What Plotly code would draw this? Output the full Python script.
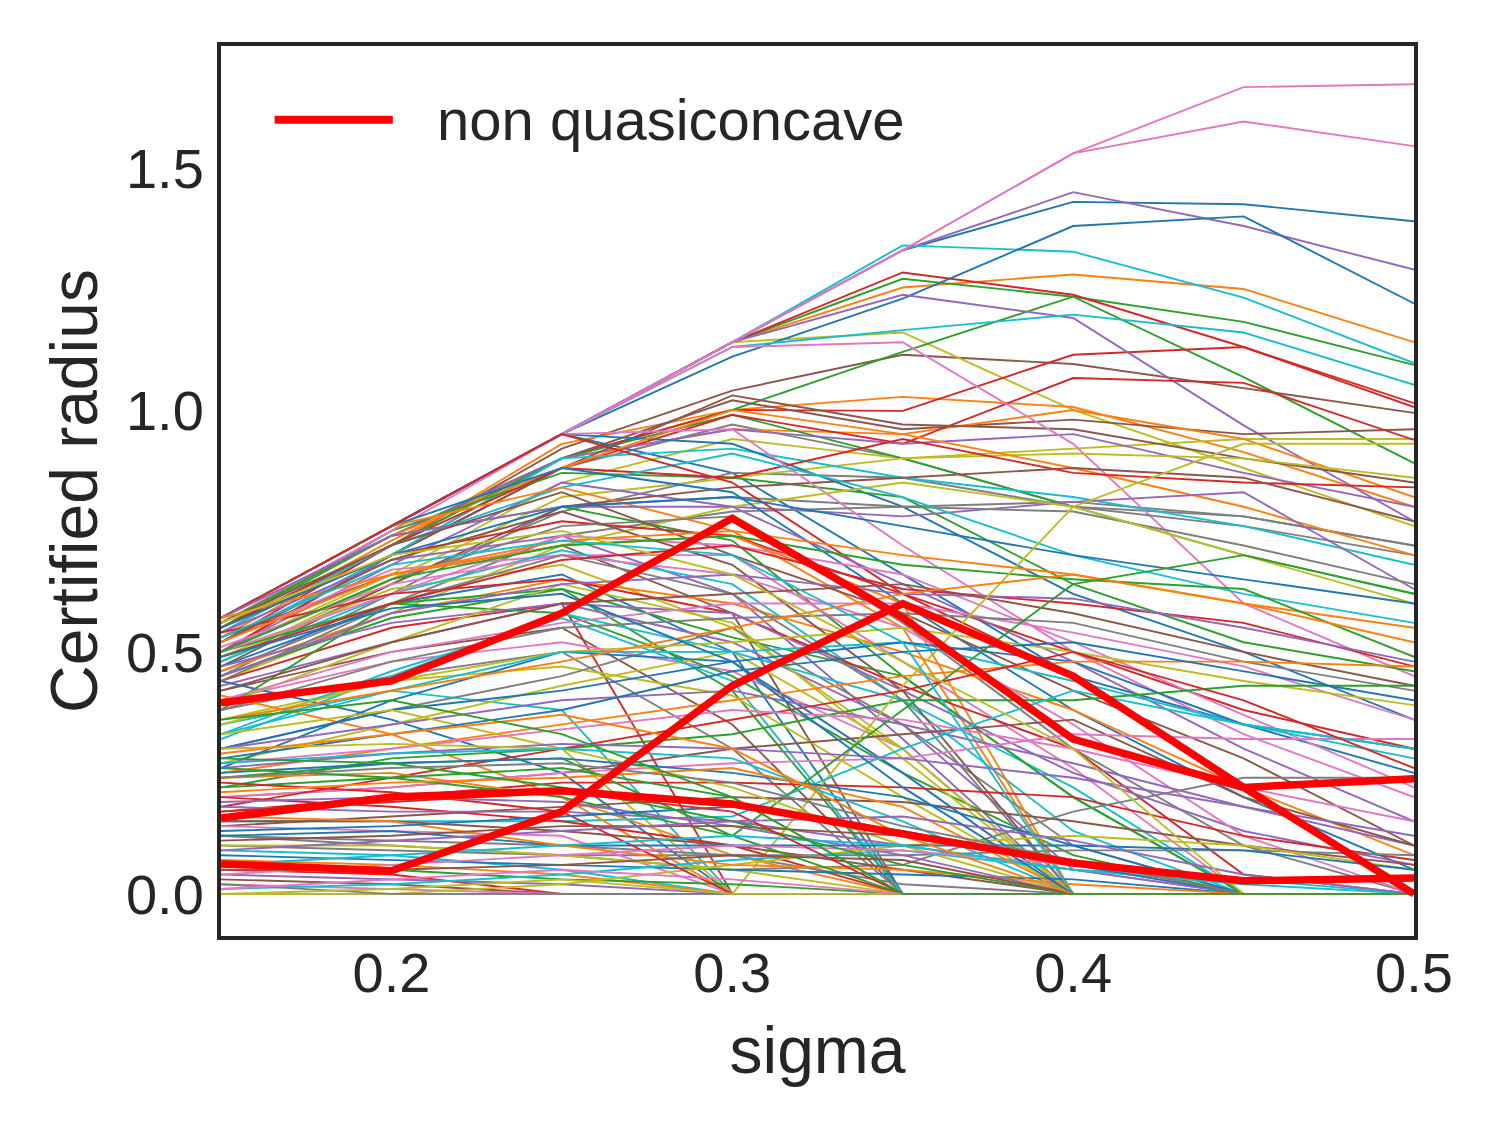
import plotly.graph_objects as go

# sigma values (x axis)
sigma = [0.15, 0.2, 0.25, 0.3, 0.35, 0.4, 0.45, 0.5]

# curves that follow the upper envelope for a while (ordered so the colour cycle lands right)
upper_curves = [
    [0.57, 0.76, 0.95, 1.14, 1.33, 1.43, 1.425, 1.39],
    [0.57, 0.76, 0.95, 1.14, 1.253, 1.28, 1.25, 1.14],
    [0.57, 0.76, 0.95, 1.14, 1.271, 1.234, 1.182, 1.093],
    [0.57, 0.76, 0.95, 1.14, 1.284, 1.238, 1.13, 1.014],
    [0.57, 0.76, 0.95, 1.14, 1.33, 1.45, 1.38, 1.29],
    [0.55, 0.72, 0.92, 1.04, 1.114, 1.095, 1.045, 0.994],
    [0.57, 0.76, 0.95, 1.14, 1.33, 1.53, 1.667, 1.673],
    [0.50, 0.70, 0.88, 0.97, 0.90, 0.80, 0.78, 0.72],
    [0.57, 0.76, 0.95, 1.14, 1.16, 1.00, 0.88, 0.76],
    [0.57, 0.76, 0.95, 1.14, 1.34, 1.327, 1.232, 1.097],
    [0.57, 0.76, 0.95, 1.11, 1.23, 1.38, 1.40, 1.22],
    [0.53, 0.72, 0.93, 1.00, 1.027, 1.006, 0.913, 0.80],
    [0.55, 0.74, 0.90, 1.00, 1.12, 1.234, 1.068, 0.89],
    [0.52, 0.72, 0.90, 1.00, 0.998, 1.114, 1.13, 1.006],
    [0.57, 0.76, 0.95, 1.14, 1.238, 1.19, 0.968, 0.77],
    [0.50, 0.70, 0.90, 1.02, 0.96, 0.98, 0.95, 0.96],
    [0.57, 0.76, 0.95, 1.14, 1.33, 1.53, 1.596, 1.545],
    [0.45, 0.62, 0.80, 0.82, 0.80, 0.81, 0.78, 0.72],
    [0.50, 0.66, 0.85, 0.94, 0.90, 0.92, 0.94, 0.94],
    [0.57, 0.76, 0.95, 1.13, 1.165, 1.197, 1.16, 1.052],
    [0.57, 0.76, 0.95, 0.87, 0.66, 0.45, 0.35, 0.25],
    [0.54, 0.73, 0.90, 0.96, 0.95, 1.00, 0.94, 0.82],
    [0.55, 0.72, 0.90, 0.99, 0.90, 0.80, 0.70, 0.62],
    [0.50, 0.70, 0.88, 0.99, 0.93, 1.066, 1.056, 0.938],
    [0.56, 0.74, 0.90, 0.96, 0.93, 0.95, 0.87, 0.80],
    [0.52, 0.70, 0.88, 1.03, 0.97, 0.96, 0.90, 0.85],
    [0.57, 0.76, 0.95, 1.13, 1.14, 0.93, 0.60, 0.45],
    [0.48, 0.64, 0.79, 0.87, 0.86, 0.80, 0.76, 0.70],
    [0.48, 0.65, 0.82, 0.86, 0.90, 0.91, 0.90, 0.86],
    [0.52, 0.70, 0.90, 0.92, 0.86, 0.82, 0.76, 0.68],
    [0.57, 0.76, 0.95, 0.93, 0.80, 0.62, 0.50, 0.36],
    [0.56, 0.74, 0.88, 1.00, 0.95, 0.88, 0.80, 0.70],
    [0.55, 0.75, 0.87, 0.86, 0.82, 0.64, 0.52, 0.46],
    [0.55, 0.72, 0.88, 0.86, 0.94, 0.87, 0.85, 0.84],
    [0.50, 0.68, 0.85, 0.80, 0.78, 0.81, 0.83, 0.63],
    [0.47, 0.64, 0.80, 0.84, 0.86, 0.88, 0.86, 0.77],
    [0.56, 0.75, 0.95, 0.96, 0.72, 0.50, 0.33, 0.20],
    [0.46, 0.60, 0.74, 0.79, 0.80, 0.79, 0.72, 0.64],
    [0.44, 0.58, 0.72, 0.80, 0.85, 0.80, 0.70, 0.60],
    [0.54, 0.72, 0.84, 0.91, 0.82, 0.70, 0.62, 0.56],
]

# curves that drop off towards zero
falling_curves = [
    [0.57, 0.76, 0.88, 0.83, 0.60, 0.38, 0.20, 0.05],
    [0.57, 0.76, 0.84, 0.75, 0.55, 0.00, 0.00, 0.00],
    [0.56, 0.74, 0.80, 0.73, 0.45, 0.20, 0.00, 0.00],
    [0.55, 0.70, 0.77, 0.74, 0.62, 0.50, 0.38, 0.30],
    [0.54, 0.69, 0.74, 0.62, 0.32, 0.00, 0.00, 0.00],
    [0.53, 0.66, 0.72, 0.58, 0.00, 0.00, 0.00, 0.00],
    [0.52, 0.67, 0.70, 0.70, 0.48, 0.26, 0.00, 0.00],
    [0.50, 0.65, 0.76, 0.78, 0.56, 0.30, 0.10, 0.00],
    [0.49, 0.63, 0.68, 0.55, 0.30, 0.00, 0.00, 0.00],
    [0.48, 0.62, 0.71, 0.64, 0.40, 0.13, 0.00, 0.00],
    [0.47, 0.60, 0.66, 0.50, 0.00, 0.00, 0.00, 0.00],
    [0.46, 0.58, 0.65, 0.60, 0.50, 0.38, 0.22, 0.08],
    [0.45, 0.57, 0.63, 0.42, 0.00, 0.00, 0.00, 0.00],
    [0.44, 0.55, 0.60, 0.00, 0.00, 0.00, 0.00, 0.00],
    [0.43, 0.52, 0.60, 0.52, 0.35, 0.05, 0.00, 0.00],
    [0.42, 0.50, 0.55, 0.35, 0.00, 0.00, 0.00, 0.00],
    [0.40, 0.48, 0.52, 0.46, 0.30, 0.00, 0.00, 0.00],
    [0.38, 0.45, 0.50, 0.30, 0.00, 0.00, 0.00, 0.00],
    [0.36, 0.44, 0.47, 0.41, 0.20, 0.00, 0.00, 0.00],
    [0.35, 0.42, 0.38, 0.00, 0.00, 0.00, 0.00, 0.00],
    [0.44, 0.36, 0.25, 0.00, 0.00, 0.00, 0.00, 0.00],
    [0.41, 0.33, 0.20, 0.08, 0.00, 0.00, 0.00, 0.00],
    [0.50, 0.60, 0.58, 0.45, 0.25, 0.08, 0.00, 0.00],
    [0.57, 0.76, 0.95, 0.85, 0.62, 0.45, 0.22, 0.00],
    [0.57, 0.74, 0.80, 0.80, 0.64, 0.48, 0.30, 0.15],
    [0.56, 0.72, 0.83, 0.70, 0.58, 0.42, 0.28, 0.10],
    [0.50, 0.62, 0.74, 0.72, 0.66, 0.52, 0.37, 0.22],
    [0.30, 0.38, 0.45, 0.55, 0.35, 0.10, 0.00, 0.00],
    [0.27, 0.35, 0.43, 0.50, 0.30, 0.00, 0.00, 0.00],
    [0.32, 0.45, 0.58, 0.50, 0.40, 0.22, 0.00, 0.00],
    [0.26, 0.40, 0.50, 0.48, 0.25, 0.00, 0.00, 0.00],
    [0.57, 0.66, 0.72, 0.74, 0.60, 0.00, 0.00, 0.00],
    [0.38, 0.60, 0.63, 0.53, 0.45, 0.20, 0.00, 0.00],
    [0.54, 0.62, 0.65, 0.58, 0.43, 0.30, 0.04, 0.00],
    [0.47, 0.56, 0.60, 0.58, 0.42, 0.25, 0.13, 0.06],
    [0.52, 0.69, 0.79, 0.68, 0.42, 0.00, 0.00, 0.00],
    [0.51, 0.64, 0.70, 0.66, 0.55, 0.35, 0.12, 0.00],
    [0.44, 0.60, 0.70, 0.62, 0.40, 0.00, 0.00, 0.00],
    [0.39, 0.52, 0.64, 0.56, 0.28, 0.00, 0.00, 0.00],
    [0.33, 0.46, 0.57, 0.44, 0.00, 0.00, 0.00, 0.00],
]

# curves that stay at moderate levels on the right
middle_curves = [
    [0.55, 0.70, 0.80, 0.82, 0.76, 0.70, 0.65, 0.60],
    [0.52, 0.66, 0.73, 0.75, 0.70, 0.66, 0.60, 0.55],
    [0.50, 0.65, 0.72, 0.74, 0.68, 0.65, 0.63, 0.49],
    [0.49, 0.60, 0.69, 0.72, 0.63, 0.60, 0.56, 0.47],
    [0.45, 0.58, 0.64, 0.66, 0.62, 0.61, 0.55, 0.48],
    [0.42, 0.52, 0.60, 0.62, 0.64, 0.58, 0.50, 0.43],
    [0.40, 0.50, 0.56, 0.60, 0.60, 0.54, 0.47, 0.36],
    [0.38, 0.48, 0.55, 0.57, 0.58, 0.56, 0.48, 0.42],
    [0.35, 0.44, 0.50, 0.52, 0.55, 0.50, 0.44, 0.39],
    [0.33, 0.42, 0.50, 0.50, 0.52, 0.44, 0.35, 0.28],
    [0.30, 0.38, 0.42, 0.48, 0.52, 0.48, 0.35, 0.30],
    [0.25, 0.30, 0.35, 0.40, 0.45, 0.48, 0.48, 0.47],
    [0.22, 0.28, 0.30, 0.33, 0.40, 0.40, 0.43, 0.43],
    [0.17, 0.20, 0.23, 0.23, 0.22, 0.20, 0.12, 0.07],
    [0.30, 0.35, 0.40, 0.42, 0.35, 0.27, 0.18, 0.10],
    [0.20, 0.22, 0.25, 0.30, 0.33, 0.36, 0.20, 0.10],
    [0.20, 0.22, 0.25, 0.27, 0.28, 0.33, 0.32, 0.32],
    [0.12, 0.10, 0.08, 0.05, 0.06, 0.17, 0.24, 0.24],
    [0.33, 0.38, 0.30, 0.00, 0.43, 0.80, 0.93, 0.93],
    [0.15, 0.15, 0.15, 0.16, 0.30, 0.42, 0.35, 0.30],
    [0.28, 0.33, 0.38, 0.46, 0.50, 0.52, 0.46, 0.40],
    [0.36, 0.42, 0.48, 0.55, 0.62, 0.66, 0.60, 0.52],
    [0.24, 0.27, 0.28, 0.12, 0.38, 0.64, 0.70, 0.62],
    [0.18, 0.24, 0.30, 0.36, 0.42, 0.50, 0.40, 0.26],
    [0.26, 0.29, 0.31, 0.30, 0.28, 0.24, 0.18, 0.12],
    [0.14, 0.16, 0.18, 0.20, 0.19, 0.15, 0.10, 0.06],
    [0.27, 0.30, 0.34, 0.38, 0.36, 0.30, 0.22, 0.15],
    [0.10, 0.09, 0.08, 0.08, 0.08, 0.09, 0.09, 0.08],
]

# curves near the bottom
low_curves = [
    [0.30, 0.31, 0.30, 0.22, 0.10, 0.00, 0.00, 0.00],
    [0.27, 0.29, 0.30, 0.28, 0.15, 0.00, 0.00, 0.00],
    [0.25, 0.27, 0.28, 0.25, 0.20, 0.10, 0.00, 0.00],
    [0.24, 0.25, 0.20, 0.00, 0.00, 0.00, 0.00, 0.00],
    [0.22, 0.24, 0.26, 0.20, 0.00, 0.00, 0.00, 0.00],
    [0.20, 0.18, 0.15, 0.10, 0.00, 0.00, 0.00, 0.00],
    [0.18, 0.17, 0.17, 0.15, 0.10, 0.05, 0.00, 0.00],
    [0.15, 0.15, 0.13, 0.10, 0.05, 0.00, 0.00, 0.00],
    [0.14, 0.13, 0.12, 0.00, 0.00, 0.00, 0.00, 0.00],
    [0.12, 0.11, 0.10, 0.08, 0.02, 0.00, 0.00, 0.00],
    [0.10, 0.10, 0.08, 0.05, 0.00, 0.00, 0.00, 0.00],
    [0.09, 0.08, 0.05, 0.00, 0.00, 0.00, 0.00, 0.00],
    [0.08, 0.07, 0.06, 0.05, 0.04, 0.03, 0.00, 0.00],
    [0.07, 0.06, 0.04, 0.00, 0.00, 0.00, 0.00, 0.00],
    [0.06, 0.05, 0.03, 0.02, 0.00, 0.00, 0.00, 0.00],
    [0.05, 0.04, 0.00, 0.00, 0.00, 0.00, 0.00, 0.00],
    [0.04, 0.03, 0.02, 0.00, 0.00, 0.00, 0.00, 0.00],
    [0.03, 0.02, 0.00, 0.00, 0.00, 0.00, 0.00, 0.00],
    [0.02, 0.01, 0.00, 0.00, 0.00, 0.00, 0.00, 0.00],
    [0.00, 0.00, 0.00, 0.00, 0.00, 0.00, 0.00, 0.00],
    [0.00, 0.00, 0.02, 0.06, 0.10, 0.12, 0.10, 0.05],
    [0.01, 0.02, 0.04, 0.07, 0.09, 0.05, 0.02, 0.00],
    [0.12, 0.13, 0.10, 0.10, 0.10, 0.10, 0.09, 0.05],
    [0.16, 0.15, 0.10, 0.06, 0.05, 0.02, 0.00, 0.00],
    [0.26, 0.24, 0.20, 0.12, 0.00, 0.00, 0.00, 0.00],
    [0.23, 0.21, 0.17, 0.00, 0.00, 0.00, 0.00, 0.00],
    [0.19, 0.20, 0.19, 0.14, 0.08, 0.00, 0.00, 0.00],
    [0.11, 0.12, 0.14, 0.14, 0.12, 0.07, 0.00, 0.00],
    [0.04, 0.06, 0.08, 0.10, 0.09, 0.06, 0.00, 0.00],
    [0.02, 0.00, 0.00, 0.00, 0.00, 0.00, 0.00, 0.00],
    [0.00, 0.01, 0.03, 0.00, 0.00, 0.00, 0.00, 0.00],
    [0.06, 0.08, 0.10, 0.12, 0.10, 0.05, 0.03, 0.00],
    [0.13, 0.14, 0.16, 0.18, 0.13, 0.06, 0.00, 0.00],
    [0.21, 0.23, 0.24, 0.26, 0.18, 0.00, 0.00, 0.00],
    [0.28, 0.27, 0.22, 0.15, 0.06, 0.00, 0.00, 0.00],
    [0.17, 0.19, 0.21, 0.17, 0.00, 0.00, 0.00, 0.00],
    [0.09, 0.11, 0.13, 0.15, 0.16, 0.11, 0.04, 0.00],
    [0.05, 0.05, 0.06, 0.08, 0.07, 0.00, 0.00, 0.00],
    [0.01, 0.03, 0.05, 0.03, 0.00, 0.00, 0.00, 0.00],
    [0.24, 0.26, 0.27, 0.23, 0.14, 0.07, 0.00, 0.00],
]

# a few more curves that fall away from the middle of the band
late_falling_curves = [
    [0.56, 0.70, 0.75, 0.66, 0.48, 0.30, 0.00, 0.00],
    [0.53, 0.68, 0.73, 0.70, 0.52, 0.00, 0.00, 0.00],
    [0.49, 0.59, 0.62, 0.48, 0.22, 0.00, 0.00, 0.00],
    [0.29, 0.33, 0.37, 0.30, 0.12, 0.00, 0.00, 0.00],
    [0.36, 0.40, 0.33, 0.20, 0.00, 0.00, 0.00, 0.00],
]

# the three non quasiconcave curves
red_curves = [
    [0.395, 0.44, 0.58, 0.776, 0.571, 0.32, 0.22, 0.238],
    [0.062, 0.048, 0.17, 0.43, 0.60, 0.45, 0.22, 0.0],
    [0.157, 0.20, 0.213, 0.186, 0.124, 0.064, 0.027, 0.033],
]

legend_label = "non quasiconcave"

palette = ["#1f77b4", "#ff7f0e", "#2ca02c", "#d62728", "#9467bd",
           "#8c564b", "#e377c2", "#7f7f7f", "#bcbd22", "#17becf"]
ink = "#262626"
font_family = "Liberation Sans, Arial, sans-serif"

fig = go.Figure()

all_curves = (upper_curves + falling_curves + middle_curves
              + low_curves + late_falling_curves)
for i, curve in enumerate(all_curves):
    fig.add_trace(go.Scatter(
        x=sigma, y=curve, mode="lines",
        line=dict(color=palette[i % 10], width=1.9),
        showlegend=False, hoverinfo="skip",
    ))

for curve in red_curves:
    fig.add_trace(go.Scatter(
        x=sigma, y=curve, mode="lines",
        line=dict(color="#ff0000", width=7.5),
        name=legend_label, showlegend=False,
    ))

# legend drawn by hand so the line sample has matplotlib's length
fig.add_shape(type="line", xref="paper", yref="paper",
              x0=0.045, x1=0.144, y0=0.917, y1=0.917,
              line=dict(color="#ff0000", width=8))
fig.add_annotation(xref="paper", yref="paper", x=0.179, y=0.917,
                   text=legend_label, showarrow=False,
                   xanchor="left", yanchor="middle",
                   font=dict(size=58, color=ink, family=font_family))

fig.update_layout(
    width=1500, height=1125,
    margin=dict(l=213, r=94, t=38, b=197),
    paper_bgcolor="white", plot_bgcolor="white",
    font=dict(family=font_family, color=ink),
)
fig.update_xaxes(
    range=[0.15, 0.5], tickvals=[0.2, 0.3, 0.4, 0.5],
    ticktext=["0.2", "0.3", "0.4", "0.5"],
    showgrid=False, zeroline=False,
    showline=True, linewidth=4, linecolor=ink, mirror=True,
    ticks="", ticklabelstandoff=-15,
    tickfont=dict(size=56, color=ink),
    title=dict(text="sigma", font=dict(size=66, color=ink), standoff=25),
)
fig.update_yaxes(
    range=[-0.087, 1.752], tickvals=[0.0, 0.5, 1.0, 1.5],
    ticktext=["0.0", "0.5", "1.0", "1.5"],
    showgrid=False, zeroline=False,
    showline=True, linewidth=4, linecolor=ink, mirror=True,
    ticks="", ticklabelstandoff=2,
    tickfont=dict(size=56, color=ink),
    title=dict(text="Certified radius", font=dict(size=66, color=ink), standoff=8),
)

fig.write_html("out.html")
